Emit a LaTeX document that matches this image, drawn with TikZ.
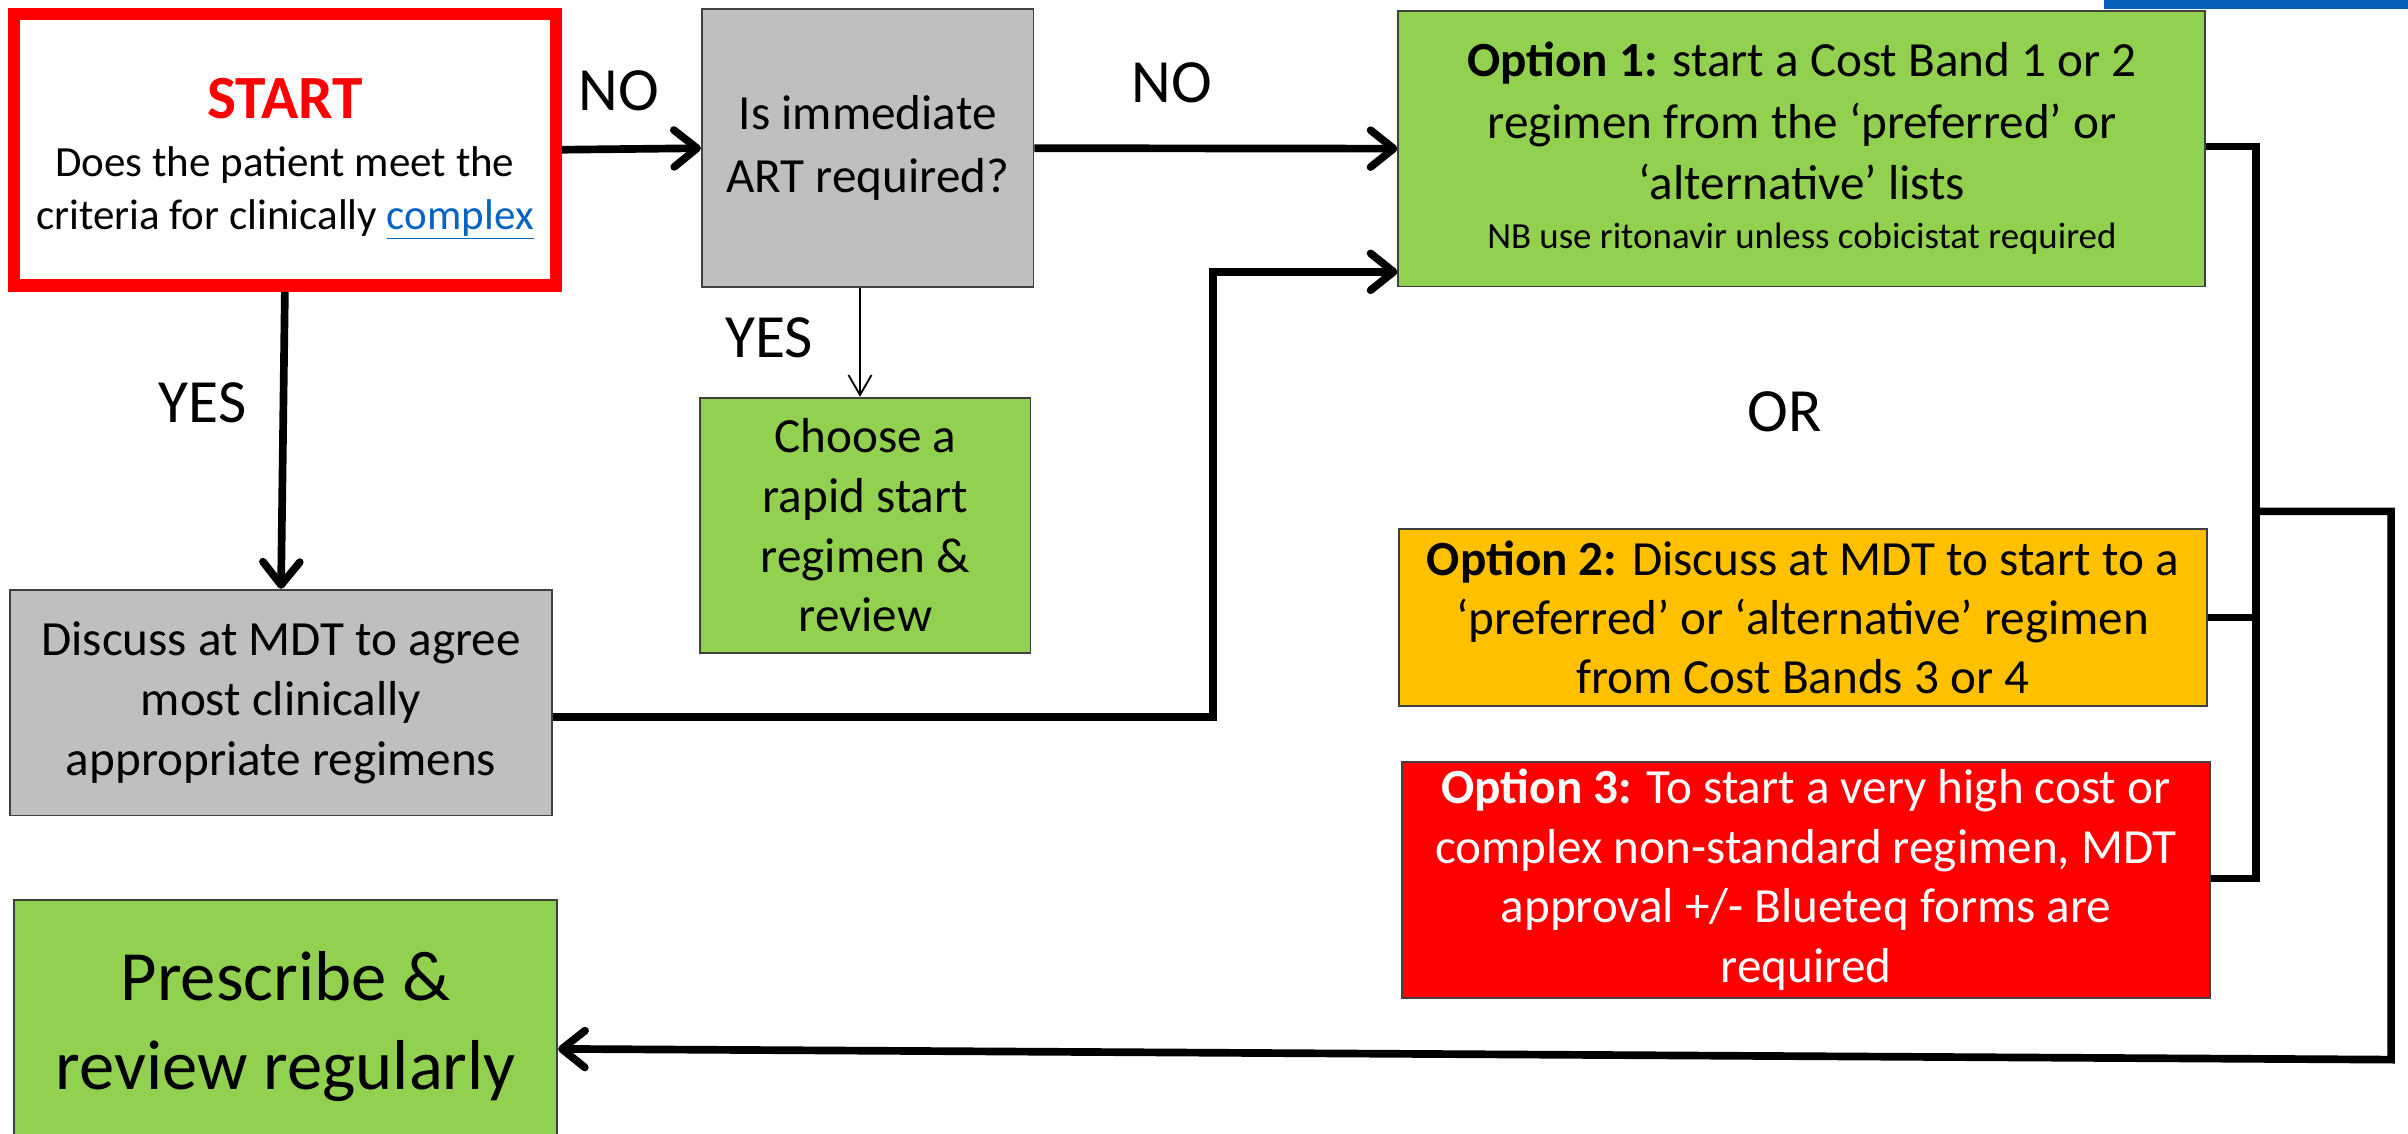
\documentclass[tikz,border=0pt]{standalone}
\usepackage{fontspec}
\setmainfont{Carlito}
\usetikzlibrary{arrows.meta,calc}
\definecolor{boxgreen}{HTML}{92D050}
\definecolor{boxgray}{HTML}{BFBFBF}
\definecolor{boxorange}{HTML}{FFC000}
\definecolor{boxred}{HTML}{FF0000}
\definecolor{linkblue}{HTML}{0563C1}
\definecolor{barblue}{HTML}{0562B8}
\tikzset{
  box/.style={draw=black!75, line width=1.2pt, inner sep=0pt, align=center},
  bodyfont/.style={font=\fontsize{32}{39}\selectfont},
  lbl/.style={font=\fontsize{40}{48}\selectfont, inner sep=0pt},
  thickarrow/.style={line width=5pt, -{Straight Barb[length=15pt,width=24pt,round]}},
  thinarrow/.style={line width=1.2pt, -{Straight Barb[length=13pt,width=15pt]}},
  thickline/.style={line width=5pt},
}
\begin{document}
\begin{tikzpicture}[x=1pt,y=-1pt]
\useasboundingbox (0,0) rectangle (1568,738);
\fill[barblue] (1370,0) rectangle (1568,6);

\node[draw=boxred, line width=8pt, inner sep=0pt, align=center, minimum width=353pt, minimum height=177pt,
      font=\fontsize{28}{34}\selectfont] (start) at (185.5,97.5)
  {\rule{0pt}{38pt}{\fontsize{40}{44}\selectfont\bfseries\color{boxred}START}\\[4pt]
   Does the patient meet the\\ criteria for clinically \textcolor{linkblue}{\underline{complex}}};

\node[box, fill=boxgray, font=\fontsize{32}{41}\selectfont, minimum width=216pt, minimum height=181pt] (ask) at (565,96.5)
  {Is immediate\\ ART required?};

\node[box, fill=boxgreen, font=\fontsize{32}{40}\selectfont, minimum width=525.5pt, minimum height=179.6pt] (opt1) at (1173.3,96.8)
  {\textbf{Option 1:} start a Cost Band 1 or 2\\ regimen from the ‘preferred’ or\\ ‘alternative’ lists\\[-8pt]
   {\fontsize{24}{29}\selectfont NB use ritonavir unless cobicistat required}};

\node[box, fill=boxgreen, bodyfont, minimum width=215pt, minimum height=166pt] (rapid) at (563.5,342)
  {Choose a\\ rapid start\\ regimen \&\\ review};

\node[box, fill=boxgray, bodyfont, minimum width=353pt, minimum height=147pt] (discuss) at (183,457.5)
  {Discuss at MDT to agree\\ most clinically\\ appropriate regimens};

\node[box, fill=boxorange, font=\fontsize{32}{38.5}\selectfont, minimum width=526.3pt, minimum height=115pt] (opt2) at (1173.9,402.1)
  {\textbf{Option 2:} Discuss at MDT to start to a\\ ‘preferred’ or ‘alternative’ regimen\\ from Cost Bands 3 or 4};

\node[box, fill=boxred, text=white, font=\fontsize{32}{38.7}\selectfont, minimum width=526pt, minimum height=153.7pt] (opt3) at (1176,572.9)
  {\textbf{Option 3:} To start a very high cost or\\ complex non-standard regimen, MDT\\ approval +/- Blueteq forms are\\ required};

\node[box, fill=boxgreen, font=\fontsize{46}{58}\selectfont, minimum width=353.6pt, minimum height=165pt] (prescribe) at (186,668.5)
  {Prescribe \&\\ review regularly};

% labels
\node[lbl] (no1) at (403,59) {NO};
\node[lbl] (no2) at (763,54) {NO};
\node[lbl] (yes1) at (501,220) {YES};
\node[lbl] (yes2) at (132,262) {YES};
\node[lbl] (or) at (1162,268) {OR};

% connectors
\draw[thickarrow] (start.east) -- (ask.west);
\draw[thickarrow] (ask.east) -- (opt1.west);
\draw[thinarrow] ([xshift=-5pt]ask.south) -- ([xshift=-5pt]ask.south |- rapid.north);
\draw[thickarrow] (start.south) -- (discuss.north);

\coordinate (bendA) at (790,467);
\coordinate (bendB) at (790,177);
\draw[thickarrow] ($(discuss.east)+(0,9.5)$) -- (bendA) -- (bendB) -- (opt1.west |- bendB);

\coordinate (rt) at (1469,95.5);
\coordinate (rb) at (1469,572);
\draw[thickline] (opt1.east |- rt) -- (rt) -- (rb) -- (opt3.east |- rb);
\draw[thickline] (opt2.east) -- (opt2.east -| rt);

\coordinate (j1) at (1469,333);
\coordinate (j2) at (1557,333);
\coordinate (j3) at (1557,690);
\draw[thickarrow] (j1) -- (j2) -- (j3) -- ($(prescribe.east)+(0,14.5)$);
\end{tikzpicture}
\end{document}
